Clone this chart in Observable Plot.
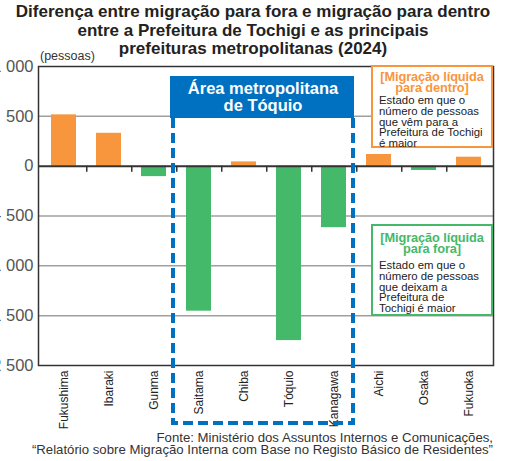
<!DOCTYPE html>
<html>
<head>
<meta charset="utf-8">
<script src="https://cdn.jsdelivr.net/npm/d3@7"></script>
<script src="https://cdn.jsdelivr.net/npm/@observablehq/plot@0.6"></script>
<style>
  body { margin: 0; background: #fff; font-family: "Liberation Sans", Arial, sans-serif; }
  #wrap { position: relative; width: 506px; height: 461px; overflow: hidden; background: #fff; }
  #chart { position: absolute; left: 0; top: 0; }
  #title { position: absolute; left: 0; top: 3px; width: 506px; text-align: center; font-weight: bold;
           font-size: 17px; line-height: 18.5px; color: #222; }
  #unit { position: absolute; left: 40px; top: 49px; font-size: 12.5px; color: #333; }
  .legend { position: absolute; left: 371px; width: 122px; background: #fff; box-sizing: border-box; padding: 0 2px 0 6px; color: #222; white-space: nowrap; }
  .legend .lt { font-weight: bold; font-size: 12.8px; line-height: 11px; text-align: center; margin-left: -4px; letter-spacing: -0.1px; }
  .legend .lb { font-size: 11.4px; line-height: 10.8px; }
  #lin { top: 65px; height: 83px; border: 2px solid #F7963C; }
  #lin .lt { color: #F7963C; padding-top: 4px; margin-bottom: 2px; }
  #lout { top: 224px; height: 92px; border: 2px solid #45B96A; }
  #lout .lt { color: #45B96A; padding-top: 6px; margin-bottom: 6px; }
  #source { position: absolute; right: 13px; top: 432px; text-align: right; font-size: 13.2px; line-height: 12px; color: #333; white-space: nowrap; }
</style>
</head>
<body>
<div id="wrap">
  <div id="chart"></div>
  <div id="title">Diferença entre migração para fora e migração para dentro<br>entre a Prefeitura de Tochigi e as principais<br>prefeituras metropolitanas (2024)</div>
  <div id="unit">(pessoas)</div>
  <div class="legend" id="lin">
    <div class="lt">[Migração líquida<br>para dentro]</div>
    <div class="lb">Estado em que o<br>número de pessoas<br>que vêm para a<br>Prefeitura de Tochigi<br>é maior</div>
  </div>
  <div class="legend" id="lout">
    <div class="lt">[Migração líquida<br>para fora]</div>
    <div class="lb">Estado em que o<br>número de pessoas<br>que deixam a<br>Prefeitura de<br>Tochigi é maior</div>
  </div>
  <div id="source">Fonte: Ministério dos Assuntos Internos e Comunicações,<br>“Relatório sobre Migração Interna com Base no Registo Básico de Residentes”</div>
</div>
<script>
// ---- data ----
const categories = ["Fukushima", "Ibaraki", "Gunma", "Saitama", "Chiba", "Tóquio", "Kanagawa", "Aichi", "Osaka", "Fukuoka"];
const netMigration = [515, 330, -105, -1455, 43, -1750, -617, 117, -43, 90];
const yTicks = [1000, 500, 0, -500, -1000, -1500, -2000];
const yTickLabels = ["1 000", "500", "0", "- 500", "-1 000", "-1 500", "-2 500"];
const metroArea = ["Saitama", "Chiba", "Tóquio", "Kanagawa"];
const metroLabel = ["Área metropolitana", "de Tóquio"];

const orange = "#F7963C", green = "#45B96A", blue = "#0070C0";

const W = 506, H = 461, mL = 38, mR = 13, mT = 66, mB = 96;
const step = (W - mL - mR) / categories.length;

const data = categories.map((c, i) => ({pref: c, value: netMigration[i]}));

const plot = Plot.plot({
  width: W, height: H,
  marginTop: mT, marginBottom: mB, marginLeft: mL, marginRight: mR,
  style: {fontFamily: "Liberation Sans, Arial, sans-serif", background: "transparent", color: "#333"},
  x: {domain: categories, padding: 0, label: null},
  y: {domain: [-2000, 1000], label: null},
  color: {domain: ["in", "out"], range: [orange, green]},
  marks: [
    Plot.gridY(yTicks.filter(v => v !== 0 && v !== 1000 && v !== -2000), {stroke: "#a0a0a0", strokeOpacity: 1, strokeWidth: 1.5}),
    Plot.barY(data, {x: "pref", y: "value", fill: d => d.value >= 0 ? "in" : "out", insetLeft: 10, insetRight: 10}),
    Plot.ruleY([0], {stroke: "#333", strokeWidth: 2}),
    Plot.ruleX(categories.slice(0, -1), {dx: step / 2, y1: 0, y2: -60, stroke: "#333", strokeWidth: 1.5}),
    Plot.frame({stroke: "#333", strokeWidth: 1.5}),
    Plot.axisY(yTicks, {tickSize: 0, tickPadding: 5, tickFormat: d => yTickLabels[yTicks.indexOf(d)],
      fontSize: 16.5, fill: "#555", label: null}),
    Plot.axisX({tickSize: 0, tickPadding: 5, tickRotate: -90, fontSize: 12, fill: "#222", label: null})
  ]
});

document.getElementById("chart").appendChild(plot);

// ---- Tokyo metropolitan area annotation, positioned with the plot's scales ----
const xs = plot.scale("x");
const x0 = xs.range[0] + xs.step * categories.indexOf(metroArea[0]);
const x1 = xs.range[0] + xs.step * (categories.indexOf(metroArea[metroArea.length - 1]) + 1);
const boxTop = mT + 10, boxBottom = mT + 52, dashBottom = H - mB + 58;
const svg = d3.select(plot);
const g = svg.append("g");
g.append("path")
  .attr("d", `M${x0},${boxBottom}V${dashBottom}H${x1}V${boxBottom}`)
  .attr("fill", "none").attr("stroke", blue).attr("stroke-width", 4).attr("stroke-dasharray", "10,5");
g.append("rect")
  .attr("x", x0 - 3).attr("y", boxTop).attr("width", x1 - x0 + 4).attr("height", boxBottom - boxTop)
  .attr("fill", blue);
g.selectAll("text.metro").data(metroLabel).join("text")
  .attr("x", (x0 + x1) / 2).attr("y", (d, i) => boxTop + 18 + i * 17)
  .attr("text-anchor", "middle").attr("fill", "#fff")
  .attr("font-weight", "bold").attr("font-size", 16.5)
  .attr("font-family", "Liberation Sans, Arial, sans-serif")
  .text(d => d);
</script>
</body>
</html>
